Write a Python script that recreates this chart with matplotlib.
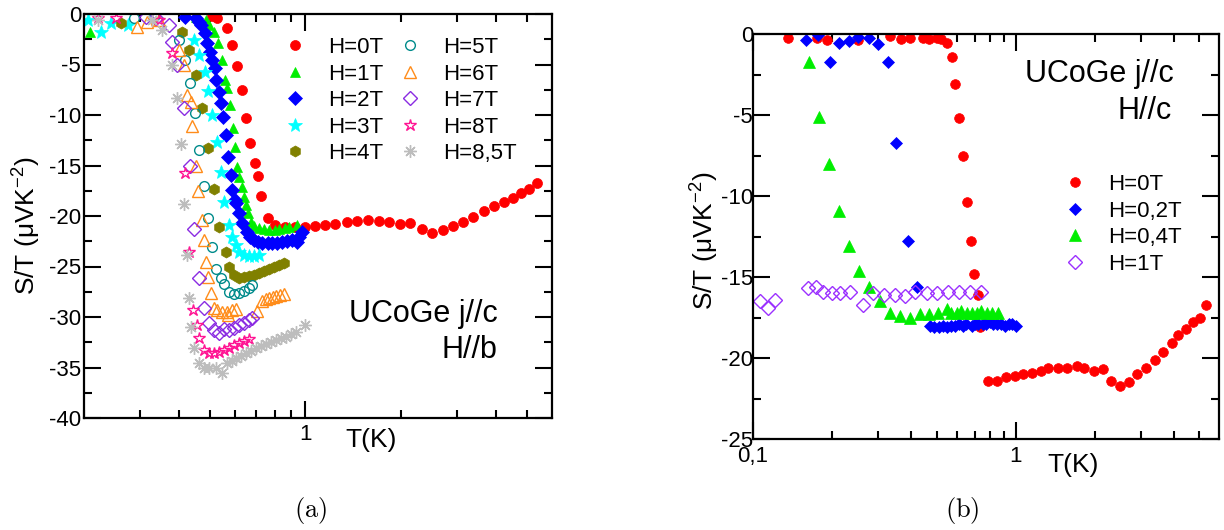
import matplotlib.pyplot as plt
from matplotlib.ticker import FixedLocator, FixedFormatter, MultipleLocator, NullFormatter

plt.rcParams['font.family'] = ['Liberation Sans', 'DejaVu Sans']
plt.rcParams['axes.unicode_minus'] = False
plt.rcParams['mathtext.fontset'] = 'custom'
plt.rcParams['mathtext.rm'] = 'Liberation Sans'
plt.rcParams['mathtext.it'] = 'Liberation Sans:italic'
plt.rcParams['mathtext.bf'] = 'Liberation Sans:bold'

# ---- panel (a): H // b ----
T0 = [0.507, 0.526, 0.565, 0.587, 0.608, 0.631, 0.650, 0.669, 0.694, 0.709, 0.725, 0.76, 0.80, 0.86, 0.93,
      1.00, 1.07, 1.15, 1.24, 1.35, 1.45, 1.57, 1.71, 1.83, 1.99, 2.14, 2.33, 2.51, 2.72, 2.93, 3.15, 3.39,
      3.65, 3.95, 4.22, 4.51, 4.78, 5.07, 5.37]
S0 = [-0.2, -0.4, -1.4, -3.1, -5.1, -7.5, -10.3, -12.8, -14.8, -16.0, -18.0, -20.2, -20.9, -21.1, -21.1,
      -21.1, -21.0, -20.9, -20.8, -20.6, -20.5, -20.4, -20.5, -20.6, -20.8, -20.7, -21.3, -21.7, -21.4, -21.0,
      -20.6, -20.1, -19.5, -19.0, -18.6, -18.2, -17.7, -17.3, -16.7]

T1 = [0.209, 0.45, 0.485, 0.496, 0.514, 0.530, 0.545, 0.557, 0.565, 0.578, 0.591, 0.600, 0.608, 0.617, 0.631,
      0.640, 0.650, 0.659, 0.674, 0.69, 0.714, 0.74, 0.769, 0.80, 0.827, 0.86, 0.890, 0.937]
S1 = [-1.8, -0.3, -0.6, -1.1, -1.8, -2.9, -4.6, -6.5, -7.3, -9.0, -11.3, -13.2, -15.1, -16.1, -17.1,
      -18.1, -18.9, -19.7, -20.6, -21.0, -21.2, -21.3, -21.4, -21.4, -21.3, -21.2, -21.1, -20.9]

T2 = [0.418, 0.451, 0.461, 0.468, 0.481, 0.489, 0.500, 0.507, 0.518, 0.522, 0.533, 0.541, 0.549, 0.561, 0.570,
      0.582, 0.587, 0.600, 0.604, 0.617, 0.631, 0.654, 0.67, 0.689, 0.71, 0.730, 0.76, 0.786, 0.815, 0.845,
      0.875, 0.909, 0.943, 0.957, 0.978]
S2 = [-0.3, -0.4, -0.8, -1.1, -1.9, -2.9, -3.8, -4.6, -5.3, -6.5, -7.7, -8.8, -10.2, -12.0, -14.2,
      -15.9, -17.4, -18.4, -18.7, -19.7, -20.7, -21.6, -22.1, -22.4, -22.6, -22.7, -22.7, -22.7, -22.7, -22.6,
      -22.5, -22.4, -22.6, -22.1, -21.6]

T3 = [0.206, 0.227, 0.244, 0.276, 0.444, 0.461, 0.481, 0.491, 0.507, 0.526, 0.541, 0.553, 0.574, 0.587, 0.604,
      0.617, 0.640, 0.664, 0.689, 0.714]
S3 = [-0.6, -1.8, -0.9, -1.1, -2.6, -4.1, -5.7, -7.6, -10.0, -12.7, -15.6, -18.6, -20.9, -22.1, -22.9,
      -23.6, -23.9, -24.0, -24.0, -23.9]

T4 = [0.262, 0.407, 0.428, 0.451, 0.471, 0.492, 0.514, 0.533, 0.561, 0.574, 0.595, 0.617, 0.640, 0.664, 0.689,
      0.714, 0.741, 0.769, 0.797, 0.827, 0.858]
S4 = [-0.9, -1.8, -3.6, -6.0, -9.3, -13.3, -17.3, -21.1, -23.6, -25.0, -25.8, -26.1, -26.0, -25.9, -25.8,
      -25.6, -25.4, -25.2, -25.0, -24.9, -24.7]

T5 = [0.287, 0.332, 0.398, 0.416, 0.431, 0.447, 0.461, 0.478, 0.492, 0.507, 0.522, 0.541, 0.553, 0.574, 0.595,
      0.617, 0.640, 0.664, 0.679]
S5 = [-0.4, -0.3, -2.6, -4.6, -6.8, -9.8, -13.5, -17.0, -20.2, -23.1, -25.2, -26.1, -26.7, -27.5, -27.7,
      -27.6, -27.4, -27.1, -26.8]

T6 = [0.293, 0.315, 0.344, 0.398, 0.413, 0.422, 0.434, 0.438, 0.451, 0.458, 0.471, 0.478, 0.485, 0.492, 0.503,
      0.514, 0.526, 0.545, 0.565, 0.57, 0.587, 0.604, 0.704, 0.730, 0.75, 0.769, 0.79, 0.809, 0.83, 0.858]
S6 = [-1.3, -0.8, -0.6, -3.6, -5.0, -8.0, -8.7, -11.1, -15.0, -17.5, -20.4, -22.4, -24.6, -26.0, -27.6,
      -29.1, -29.3, -29.5, -29.5, -29.8, -29.3, -29.2, -29.4, -28.4, -28.2, -28.1, -28.0, -27.9, -27.8, -27.7]

T7 = [0.313, 0.337, 0.370, 0.378, 0.392, 0.413, 0.431, 0.444, 0.461, 0.478, 0.496, 0.514, 0.533, 0.553, 0.574,
      0.595, 0.617, 0.640, 0.664, 0.679]
S7 = [-0.3, -0.4, -1.1, -2.8, -5.0, -9.3, -15.0, -21.3, -26.1, -29.1, -30.6, -31.3, -31.6, -31.2, -31.3,
      -31.1, -30.8, -30.6, -30.3, -30.1]

T8 = [0.222, 0.253, 0.344, 0.378, 0.416, 0.428, 0.441, 0.454, 0.461, 0.478, 0.496, 0.514, 0.533, 0.553, 0.574,
      0.595, 0.617, 0.640, 0.664]
S8 = [-0.4, -0.4, -0.6, -3.9, -15.7, -23.6, -29.3, -30.8, -32.1, -33.3, -33.6, -33.6, -33.5, -33.3, -33.1,
      -32.8, -32.6, -32.4, -32.2]

T85 = [0.222, 0.327, 0.352, 0.378, 0.392, 0.404, 0.413, 0.422, 0.428, 0.434, 0.444, 0.461, 0.478, 0.496, 0.522,
       0.545, 0.565, 0.587, 0.604, 0.627, 0.650, 0.674, 0.699, 0.725, 0.752, 0.780, 0.809, 0.839, 0.870, 0.903,
       0.936, 1.0]
S85 = [-0.6, -0.6, -1.6, -5.0, -8.3, -12.9, -18.8, -23.9, -28.1, -31.0, -33.1, -34.6, -35.0, -35.0, -35.0,
       -35.5, -34.6, -34.4, -34.1, -33.9, -33.6, -33.4, -33.1, -32.9, -32.7, -32.5, -32.3, -32.1, -32.0, -31.7,
       -31.5, -30.8]

# ---- panel (b): H // c ----
R0T = [0.136, 0.175, 0.191, 0.251, 0.332, 0.365, 0.395, 0.443, 0.47, 0.501, 0.52, 0.547, 0.571, 0.586, 0.607,
       0.629, 0.651, 0.674, 0.692, 0.717, 0.730, 0.783, 0.847, 0.916, 0.991, 1.064, 1.151, 1.245, 1.334, 1.444,
       1.563, 1.706, 1.829, 1.980, 2.143, 2.318, 2.507, 2.713, 2.909, 3.147, 3.405, 3.652, 3.951, 4.168, 4.467,
       4.751, 5.047, 5.321]
R0S = [-0.25, -0.25, -0.37, -0.37, -0.12, -0.3, -0.25, -0.25, -0.3, -0.25, -0.3, -0.55, -1.4, -3.1, -5.2,
       -7.5, -10.4, -12.8, -14.8, -16.1, -18.1, -21.4, -21.4, -21.2, -21.1, -21.0, -20.9, -20.8, -20.6, -20.6,
       -20.6, -20.5, -20.6, -20.8, -20.7, -21.4, -21.7, -21.5, -21.0, -20.6, -20.1, -19.6, -19.1, -18.6, -18.2,
       -17.8, -17.5, -16.7]

R2T = [0.159, 0.177, 0.196, 0.212, 0.232, 0.251, 0.276, 0.299, 0.326, 0.350, 0.388, 0.420, 0.471, 0.49, 0.51,
       0.53, 0.55, 0.57, 0.59, 0.61, 0.63, 0.65, 0.68, 0.70, 0.72, 0.75, 0.77, 0.80, 0.82, 0.85, 0.88, 0.91,
       0.94, 0.97, 1.0]
R2S = [-0.37, -0.06, -1.7, -0.55, -0.43, -0.19, -0.25, -0.6, -1.7, -6.7, -12.8, -15.6, -18.0, -18.1, -18.1,
       -18.0, -18.1, -18.0, -18.0, -17.9, -18.0, -17.9, -18.0, -17.9, -17.9, -17.9, -17.9, -17.8, -17.9, -17.9,
       -17.9, -18.0, -17.9, -17.9, -18.0]

R4T = [0.163, 0.178, 0.195, 0.212, 0.232, 0.253, 0.276, 0.304, 0.332, 0.362, 0.395, 0.432, 0.467, 0.505, 0.547,
       0.57, 0.597, 0.62, 0.651, 0.68, 0.711, 0.74, 0.776, 0.81, 0.855]
R4S = [-1.7, -5.1, -8.0, -10.9, -13.1, -14.6, -15.6, -16.5, -17.2, -17.4, -17.5, -17.3, -17.3, -17.2, -17.0,
       -17.2, -17.2, -17.1, -17.2, -17.2, -17.2, -17.1, -17.2, -17.2, -17.2]

R1T = [0.106, 0.114, 0.121, 0.162, 0.174, 0.185, 0.200, 0.214, 0.234, 0.262, 0.286, 0.315, 0.347, 0.378, 0.413,
       0.459, 0.501, 0.551, 0.607, 0.668, 0.736]
R1S = [-16.5, -16.9, -16.4, -15.7, -15.6, -15.9, -16.0, -16.0, -15.9, -16.7, -16.0, -16.1, -16.1, -16.2, -15.9,
       -16.0, -16.0, -15.9, -15.9, -15.9, -15.9]

# (T, S, label, marker, colour, filled, size)
series_a = [
    (T0, S0, 'H=0T', 'o', '#ff0000', True, 7.2),
    (T1, S1, 'H=1T', '^', '#00ee00', True, 7.8),
    (T2, S2, 'H=2T', 'D', '#0000ff', True, 6.8),
    (T3, S3, 'H=3T', '*', '#00ffff', True, 10),
    (T4, S4, 'H=4T', 'h', '#808000', True, 8),
    (T5, S5, 'H=5T', 'o', '#008b8b', False, 7),
    (T6, S6, 'H=6T', '^', '#ff8c1a', False, 8.5),
    (T7, S7, 'H=7T', 'D', '#8a2be2', False, 7),
    (T8, S8, 'H=8T', '*', '#ff1493', False, 9),
    (T85, S85, 'H=8,5T', (8, 2, 0), '#bdbdbd', False, 9),
]
series_b = [
    (R0T, R0S, 'H=0T', 'o', '#ff0000', True, 7),
    (R2T, R2S, 'H=0,2T', 'D', '#0000ff', True, 6.5),
    (R4T, R4S, 'H=0,4T', '^', '#00ee00', True, 8),
    (R1T, R1S, 'H=1T', 'D', '#9b30ff', False, 7),
]

fig = plt.figure(figsize=(12.24, 5.30), dpi=100)
axa = fig.add_axes([84 / 1224, 112 / 530, 468 / 1224, 404 / 530])
axb = fig.add_axes([753 / 1224, 91 / 530, 466 / 1224, 405 / 530])


def draw(ax, series):
    for T, S, lab, m, c, filled, ms in series:
        ax.plot(T, S, ls='none', marker=m, ms=ms, mfc=c if filled else 'none', mec=c,
                mew=0.5 if filled else 1.0, label=lab)


def style(ax, fs, ypad, majx, majlab, minx):
    ax.set_xscale('log')
    for s in ax.spines.values():
        s.set_linewidth(1.6)
    ax.tick_params(which='both', direction='in', top=True, right=True, width=1.5, labelsize=fs)
    ax.tick_params(which='major', length=12)
    ax.tick_params(which='minor', length=6)
    ax.tick_params(axis='y', pad=ypad)
    ax.tick_params(axis='x', pad=4)
    ax.yaxis.set_major_locator(MultipleLocator(5))
    ax.yaxis.set_minor_locator(MultipleLocator(2.5))
    ax.xaxis.set_major_locator(FixedLocator(majx))
    ax.xaxis.set_major_formatter(FixedFormatter(majlab))
    ax.xaxis.set_minor_locator(FixedLocator(minx))
    ax.xaxis.set_minor_formatter(NullFormatter())


draw(axa, series_a)
style(axa, 16, 2, [1], ['1'], [0.2, 0.3, 0.4, 0.5, 0.6, 0.7, 0.8, 0.9, 2, 3, 4, 5])
axa.set_xlim(0.2, 6.0)
axa.set_ylim(-40, 0)
axa.legend(ncol=2, loc='upper left', bbox_to_anchor=(0.427, 0.943), frameon=False, fontsize=16,
           handlelength=1.0, handletextpad=1.0, columnspacing=0.7, labelspacing=0.25,
           borderpad=0, borderaxespad=0, numpoints=1)

draw(axb, series_b)
style(axb, 16, 0, [0.1, 1], ['0,1', '1'], [0.2, 0.3, 0.4, 0.5, 0.6, 0.7, 0.8, 0.9, 2, 3, 4, 5])
axb.tick_params(axis='x', pad=5)
axb.set_xlim(0.1, 5.95)
axb.set_ylim(-25, 0)
axb.legend(loc='upper left', bbox_to_anchor=(0.667, 0.654), frameon=False, fontsize=16,
           handlelength=1.0, handletextpad=1.0, labelspacing=0.25,
           borderpad=0, borderaxespad=0, numpoints=1)

W, H = 1224, 530
ylab = 'S/T (μVK$^{-2}$)'
fig.text(27 / W, 1 - 226 / H, ylab, rotation=90, ha='center', va='center', fontsize=19)
fig.text(705 / W, 1 - 241 / H, ylab, rotation=90, ha='center', va='center', fontsize=19)
fig.text(371 / W, 1 - 440 / H, 'T(K)', ha='center', va='center', fontsize=19)
fig.text(1073 / W, 1 - 465 / H, 'T(K)', ha='center', va='center', fontsize=19)

fig.text(498 / W, 1 - 322 / H, 'UCoGe j//c', ha='right', va='baseline', fontsize=22)
fig.text(497 / W, 1 - 358 / H, 'H//b', ha='right', va='baseline', fontsize=22)
fig.text(1174 / W, 1 - 82 / H, 'UCoGe j//c', ha='right', va='baseline', fontsize=22)
fig.text(1172 / W, 1 - 119 / H, 'H//c', ha='right', va='baseline', fontsize=22)

fig.text(311 / W, 1 - 511 / H, r'$\mathrm{(a)}$', ha='center', va='center', fontsize=19, math_fontfamily='cm')
fig.text(962 / W, 1 - 511 / H, r'$\mathrm{(b)}$', ha='center', va='center', fontsize=19, math_fontfamily='cm')

fig.savefig('out.png', dpi=100)
